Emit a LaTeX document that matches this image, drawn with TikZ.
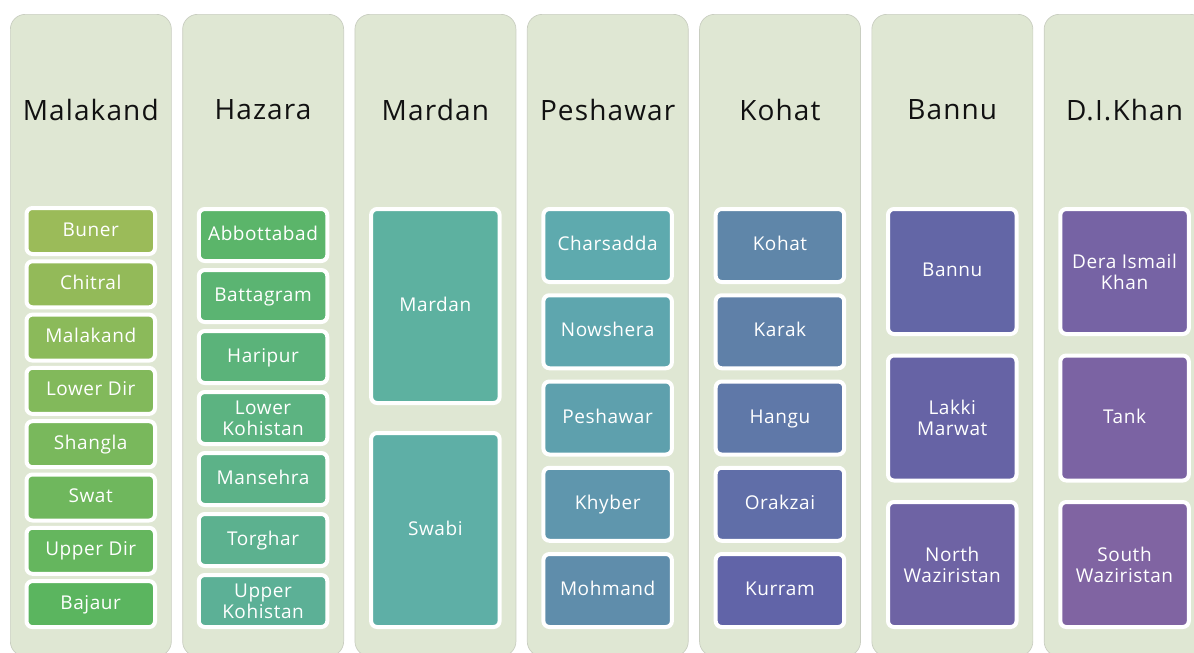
\documentclass[tikz,border=0pt]{standalone}
\usepackage{fontspec}
\setmainfont{Open Sans}
\newfontfamily\ttlfont{Open Sans}[LetterSpace=4]
\newfontfamily\boxfont{Open Sans}[LetterSpace=3]
\definecolor{panelbg}{HTML}{DFE7D3}
\definecolor{panelln}{HTML}{C9CEC1}
\definecolor{titlec}{HTML}{111111}
\definecolor{a1}{HTML}{9BBB59}\definecolor{a2}{HTML}{93BA59}\definecolor{a3}{HTML}{8BBA5A}\definecolor{a4}{HTML}{82B95B}
\definecolor{a5}{HTML}{79B85C}\definecolor{a6}{HTML}{6FB75D}\definecolor{a7}{HTML}{65B65E}\definecolor{a8}{HTML}{5BB55F}
\definecolor{b1}{HTML}{5BB56A}\definecolor{b2}{HTML}{5BB472}\definecolor{b3}{HTML}{5BB37A}\definecolor{b4}{HTML}{5CB381}
\definecolor{b5}{HTML}{5CB288}\definecolor{b6}{HTML}{5CB18F}\definecolor{b7}{HTML}{5CB096}
\definecolor{c1}{HTML}{5DB1A0}\definecolor{c2}{HTML}{5EAFA6}
\definecolor{d1}{HTML}{5EAAAE}\definecolor{d2}{HTML}{5EA6AE}\definecolor{d3}{HTML}{5EA0AD}\definecolor{d4}{HTML}{5F96AD}\definecolor{d5}{HTML}{5F8DAB}
\definecolor{e1}{HTML}{5F86A9}\definecolor{e2}{HTML}{5F80A8}\definecolor{e3}{HTML}{5F78A8}\definecolor{e4}{HTML}{606EA8}\definecolor{e5}{HTML}{6164A8}
\definecolor{f1}{HTML}{6366A6}\definecolor{f2}{HTML}{6663A5}\definecolor{f3}{HTML}{6E63A4}
\definecolor{g1}{HTML}{7663A4}\definecolor{g2}{HTML}{7B63A3}\definecolor{g3}{HTML}{8064A2}
\begin{document}
\begin{tikzpicture}[x=1pt,y=-1pt,
  panel/.style={fill=panelbg, draw=panelln, line width=0.7pt, rounded corners=15pt,
    minimum width=161pt, minimum height=642pt, anchor=north west, inner sep=0pt},
  ttl/.style={font=\ttlfont\fontsize{28}{34}\selectfont, text=titlec, inner sep=0pt},
  dbox/.style={draw=white, line width=4pt, rounded corners=6pt, minimum width=128.5pt,
    inner sep=0pt, text=white, align=center, font=\boxfont\fontsize{19}{21}\selectfont,
    text height=10pt, text depth=0pt},
  ml/.style={text height={}, text depth={}},
  hA/.style={dbox, minimum height=46pt},
  hB/.style={dbox, minimum height=52pt},
  hC/.style={dbox, minimum height=194pt},
  hD/.style={dbox, minimum height=73pt},
  hF/.style={dbox, minimum height=125pt},
]
\useasboundingbox (0,0) rectangle (1194,653);
% panels
\node[panel] (p1) at (10,14) {};
\node[panel] (p2) at (182.3,14) {};
\node[panel] (p3) at (354.6,14) {};
\node[panel] (p4) at (526.9,14) {};
\node[panel] (p5) at (699.2,14) {};
\node[panel] (p6) at (871.5,14) {};
\node[panel] (p7) at (1043.8,14) {};
% titles
\node[ttl] (t1) at (90.75,110) {Malakand};
\node[ttl] (t2) at (263.05,110) {Hazara};
\node[ttl] (t3) at (435.35,110) {Mardan};
\node[ttl] (t4) at (607.65,110) {Peshawar};
\node[ttl] (t5) at (779.95,110) {Kohat};
\node[ttl] (t6) at (952.25,110) {Bannu};
\node[ttl] (t7) at (1124.55,110) {D.I.Khan};
% Malakand
\node[hA, fill=a1] (a1) at (90.75,231) {Buner};
\node[hA, fill=a2] (a2) at (90.75,284.3) {Chitral};
\node[hA, fill=a3] (a3) at (90.75,337.6) {Malakand};
\node[hA, fill=a4] (a4) at (90.75,390.9) {Lower Dir};
\node[hA, fill=a5] (a5) at (90.75,444.2) {Shangla};
\node[hA, fill=a6] (a6) at (90.75,497.5) {Swat};
\node[hA, fill=a7] (a7) at (90.75,550.8) {Upper Dir};
\node[hA, fill=a8] (a8) at (90.75,604.1) {Bajaur};
% Hazara
\node[hB, fill=b1] (b1) at (263.05,235) {Abbottabad};
\node[hB, fill=b2] (b2) at (263.05,296) {Battagram};
\node[hB, fill=b3] (b3) at (263.05,357) {Haripur};
\node[hB, ml, fill=b4] (b4) at (263.05,418) {Lower\\Kohistan};
\node[hB, fill=b5] (b5) at (263.05,479) {Mansehra};
\node[hB, fill=b6] (b6) at (263.05,540) {Torghar};
\node[hB, ml, fill=b7] (b7) at (263.05,601) {Upper\\Kohistan};
% Mardan
\node[hC, fill=c1] (c1) at (435.35,306) {Mardan};
\node[hC, fill=c2] (c2) at (435.35,530) {Swabi};
% Peshawar
\node[hD, fill=d1] (d1) at (607.65,245.5) {Charsadda};
\node[hD, fill=d2] (d2) at (607.65,331.75) {Nowshera};
\node[hD, fill=d3] (d3) at (607.65,418) {Peshawar};
\node[hD, fill=d4] (d4) at (607.65,504.25) {Khyber};
\node[hD, fill=d5] (d5) at (607.65,590.5) {Mohmand};
% Kohat
\node[hD, fill=e1] (e1) at (779.95,245.5) {Kohat};
\node[hD, fill=e2] (e2) at (779.95,331.75) {Karak};
\node[hD, fill=e3] (e3) at (779.95,418) {Hangu};
\node[hD, fill=e4] (e4) at (779.95,504.25) {Orakzai};
\node[hD, fill=e5] (e5) at (779.95,590.5) {Kurram};
% Bannu
\node[hF, fill=f1] (f1) at (952.25,271.5) {Bannu};
\node[hF, ml, fill=f2] (f2) at (952.25,418) {Lakki\\Marwat};
\node[hF, ml, fill=f3] (f3) at (952.25,564.5) {North\\Waziristan};
% D.I.Khan
\node[hF, ml, fill=g1] (g1) at (1124.55,271.5) {Dera Ismail\\Khan};
\node[hF, fill=g2] (g2) at (1124.55,418) {Tank};
\node[hF, ml, fill=g3] (g3) at (1124.55,564.5) {South\\Waziristan};
\end{tikzpicture}
\end{document}
